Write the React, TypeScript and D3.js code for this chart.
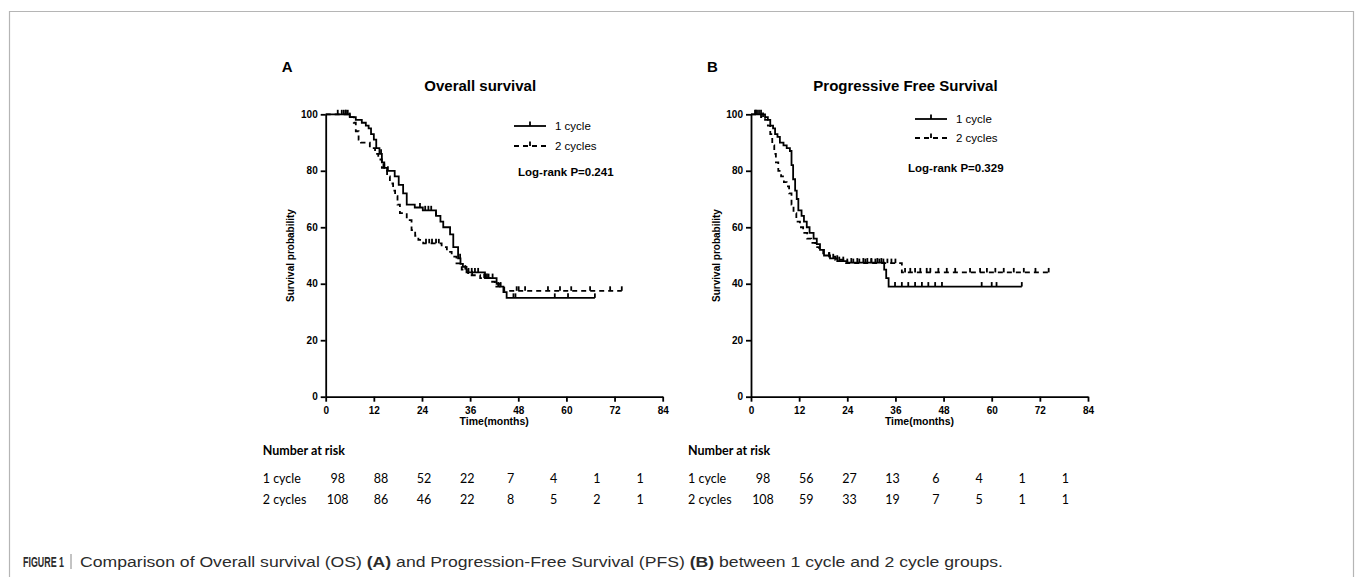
import { useEffect, useRef } from 'react'
import * as d3 from 'd3'

const W = 1357
const H = 577

const monthTicks = [0, 12, 24, 36, 48, 60, 72, 84]
const survTicks = [0, 20, 40, 60, 80, 100]
const groups = ['1 cycle', '2 cycles']

// Overall survival, [month, survival %] at each drop
const osOneSteps = [[6, 99], [7.5, 98], [9, 97], [10, 96], [10.7, 95], [11.3, 93], [12, 91], [12.6, 88], [13.4, 86], [14, 83], [14.6, 81], [15.3, 80], [17.2, 78], [18.2, 75], [19.3, 72], [20.2, 68], [22.2, 67], [24.2, 66], [27.5, 64], [28.6, 62], [29.3, 60], [31, 57.5], [31.8, 53], [33, 49], [33.6, 47], [34.2, 46], [35.1, 44], [39.7, 42], [42.6, 40], [43.5, 39], [44.3, 37], [45.1, 35]]
const osOneEnd = 67.1
const osOneCensor = [3, 4.5, 5, 5.5, 13.8, 14.6, 15.5, 23.5, 24.8, 25.6, 26.3, 27.5, 33.5, 35.6, 36.4, 37.2, 38, 39.8, 40.6, 41.6, 43.6, 46.8, 47.3, 57.1, 60.4, 67.1]

const osTwoSteps = [[5.5, 99], [7, 97], [7.5, 94], [8.2, 91], [8.8, 90], [11, 88], [12.3, 86], [13.1, 84], [14, 81], [15.3, 78], [16, 75.5], [16.8, 73], [17.3, 71], [17.9, 68], [18.5, 65], [20.2, 62.5], [21.4, 59], [22.3, 57], [23.1, 55.5], [24.3, 54.3], [28.9, 53], [30.2, 51.3], [31.4, 49.6], [32.6, 47.2], [33.9, 45], [35.5, 43], [38.5, 42], [41, 40.7], [42.2, 39], [44.5, 37.5]]
const osTwoEnd = 73.8
const osTwoCensor = [4, 5, 6, 14.4, 25, 25.8, 26.5, 27.5, 28.2, 34.8, 36.5, 39.5, 40.2, 43, 47.6, 48.1, 49.7, 55.4, 58.4, 61.2, 65.9, 70.9, 73.8]

// Progression free survival
const pfsOneSteps = [[3.5, 99], [4.2, 98], [4.8, 96], [5.5, 95], [6, 93], [6.6, 92], [7.2, 90], [8.1, 89], [8.9, 88], [9.7, 87], [10.1, 82], [10.5, 77], [11, 73], [11.4, 70], [11.8, 66], [12.6, 64], [13.2, 62], [13.9, 60], [14.6, 58], [15.6, 56], [16.4, 54], [17.2, 52], [18.2, 50], [19.7, 49], [21.5, 48], [24, 47.5], [33.2, 45], [33.7, 42], [34.3, 39]]
const pfsOneEnd = 67.5
const pfsOneCensor = [1, 1.5, 2.5, 20.5, 22, 23, 25, 26.5, 28, 29, 30, 31.5, 32.5, 35.9, 37.6, 39.2, 40.9, 42.6, 44.2, 45.9, 47.6, 57.5, 60, 61.2, 67.5]

const pfsTwoSteps = [[2.5, 99], [3.5, 98], [4.2, 96], [4.8, 93], [5.3, 89], [5.8, 86], [6.2, 83], [6.8, 80], [7.5, 78], [8.2, 76], [8.9, 74.5], [9.5, 72], [10.1, 68], [10.6, 65], [11.3, 62], [12.2, 60], [13, 58], [14, 56], [15, 54.5], [16, 53], [17, 52], [18, 50.8], [19.5, 49.6], [21, 48.5], [23, 47.3], [37.6, 44]]
const pfsTwoEnd = 74.2
const pfsTwoCensor = [1.2, 2, 3, 19.5, 21.5, 24, 25.5, 27, 28.5, 30, 31, 32, 33, 34, 35, 36, 38.4, 39.7, 40.9, 42.2, 43.8, 44.7, 46.7, 48.8, 50.9, 54.6, 57.1, 58.8, 60.9, 63, 65.5, 68, 70.9, 74.2]

// number at risk
const osRiskOne = [98, 88, 52, 22, 7, 4, 1, 1]
const osRiskTwo = [108, 86, 46, 22, 8, 5, 2, 1]
const pfsRiskOne = [98, 56, 27, 13, 6, 4, 1, 1]
const pfsRiskTwo = [108, 59, 33, 19, 7, 5, 1, 1]

const arial = '"Liberation Sans", Arial, sans-serif'
const calibri = 'Lato, "Open Sans", sans-serif'
const DASH = '5,4'

function survAt(steps, t) {
  let s = 100
  for (const [st, v] of steps) if (st <= t) s = v
  return s
}

function Curve({ x, y, steps, end, censor, dashed }) {
  const pts = [[0, 100], ...steps, [end, steps[steps.length - 1][1]]]
  const line = d3.line().x(d => x(d[0])).y(d => y(d[1])).curve(d3.curveStepAfter)
  return (
    <g fill="none" stroke="#000" strokeWidth={1.8}>
      <path d={line(pts)} strokeDasharray={dashed ? DASH : null} />
      {censor.map((c, i) => {
        const cy = y(survAt(steps, c))
        return <line key={i} x1={x(c)} x2={x(c)} y1={cy} y2={cy - 4.5} />
      })}
    </g>
  )
}

function KMPanel({ x0, letter, title, pText, legendX, legendY, legendGap, pY, pX, curves, riskOne, riskTwo }) {
  const axRef = useRef(null)
  const ayRef = useRef(null)
  const x = d3.scaleLinear().domain([0, 84]).range([x0, x0 + 337])
  const y = d3.scaleLinear().domain([0, 100]).range([396.7, 114.3])

  useEffect(() => {
    const gx = d3.select(axRef.current)
    gx.call(d3.axisBottom(x).tickValues(monthTicks).tickSize(5).tickPadding(5).tickSizeOuter(0))
    const gy = d3.select(ayRef.current)
    gy.call(d3.axisLeft(y).tickValues(survTicks).tickSize(5).tickPadding(3).tickSizeOuter(0))
    for (const g of [gx, gy]) {
      g.attr('font-family', arial).attr('font-size', 10).attr('font-weight', 'bold')
      g.selectAll('path, line').attr('stroke', '#000').attr('stroke-width', 1.8)
      g.selectAll('text').attr('fill', '#000')
    }
  }, [x0])

  const cx = x0 + 168.5
  const riskX = x0 - 63
  const colX = d3.range(8).map(i => riskX + 75 + i * 43.2)

  return (
    <g>
      <text x={x0 - 44} y={72} fontFamily={arial} fontWeight="bold" fontSize={15}>{letter}</text>
      <text x={cx - 14} y={90.5} textAnchor="middle" fontFamily={arial} fontWeight="bold" fontSize={15}>{title}</text>
      <text transform={`translate(${x0 - 31.5},255.5) rotate(-90)`} textAnchor="middle" fontFamily={arial} fontWeight="bold" fontSize={10}>Survival probability</text>
      <g ref={axRef} transform="translate(0,396.7)" />
      <g ref={ayRef} transform={`translate(${x0},0)`} />
      <text x={cx} y={425} textAnchor="middle" fontFamily={arial} fontWeight="bold" fontSize={10.5}>Time(months)</text>

      {curves.map((c, i) => <Curve key={i} x={x} y={y} {...c} />)}

      {groups.map((g, i) => (
        <g key={g} transform={`translate(${legendX},${legendY + i * legendGap})`}>
          <line x1={0} x2={32} y1={0} y2={0} stroke="#000" strokeWidth={1.8} strokeDasharray={i ? DASH : null} />
          <line x1={16} x2={16} y1={0} y2={-4.5} stroke="#000" strokeWidth={1.8} />
          <text x={41} y={4} fontFamily={arial} fontSize={11.5}>{g}</text>
        </g>
      ))}
      <text x={pX} y={pY} fontFamily={arial} fontWeight="bold" fontSize={11.5}>{pText}</text>

      <g fontFamily={calibri} fontSize={12.5} fill="#000">
        <text x={riskX} y={455} fontWeight="bold">Number at risk</text>
        {[riskOne, riskTwo].map((row, r) => (
          <g key={r}>
            <text x={riskX} y={483 + r * 21}>{groups[r]}</text>
            {row.map((v, i) => (
              <text key={i} x={colX[i]} y={483 + r * 21} textAnchor="middle">{v}</text>
            ))}
          </g>
        ))}
      </g>
    </g>
  )
}

export default function App() {
  return (
    <svg width={W} height={H} style={{ position: 'absolute', left: 0, top: 0, background: '#fff' }}>
      <rect width={W} height={H} fill="#fff" />
      <path d="M9.5,577 V11.5 H1353.5 V577" fill="none" stroke="#b5b5b5" strokeWidth={1.2} />

      <KMPanel
        x0={325.7} letter="A" title="Overall survival" pText="Log-rank P=0.241"
        legendX={514} legendY={126} legendGap={20} pX={518} pY={175.5}
        curves={[
          { steps: osOneSteps, end: osOneEnd, censor: osOneCensor, dashed: false },
          { steps: osTwoSteps, end: osTwoEnd, censor: osTwoCensor, dashed: true },
        ]}
        riskOne={osRiskOne} riskTwo={osRiskTwo}
      />
      <KMPanel
        x0={751} letter="B" title="Progressive Free Survival" pText="Log-rank P=0.329"
        legendX={915} legendY={119} legendGap={19} pX={908} pY={172.3}
        curves={[
          { steps: pfsOneSteps, end: pfsOneEnd, censor: pfsOneCensor, dashed: false },
          { steps: pfsTwoSteps, end: pfsTwoEnd, censor: pfsTwoCensor, dashed: true },
        ]}
        riskOne={pfsRiskOne} riskTwo={pfsRiskTwo}
      />

      <g fill="#2b2b2b" fontSize={14}>
        <text x={23} y={566.5} fontFamily={arial} fontWeight="bold" textLength={41} lengthAdjust="spacingAndGlyphs">FIGURE 1</text>
        <line x1={71} x2={71} y1={554} y2={569} stroke="#888" strokeWidth={1} />
        <text x={80} y={566.5} fontFamily={arial} textLength={923} lengthAdjust="spacingAndGlyphs">
          Comparison of Overall survival (OS) <tspan fontWeight="bold">(A)</tspan> and Progression-Free Survival (PFS) <tspan fontWeight="bold">(B)</tspan> between 1 cycle and 2 cycle groups.
        </text>
      </g>
    </svg>
  )
}
